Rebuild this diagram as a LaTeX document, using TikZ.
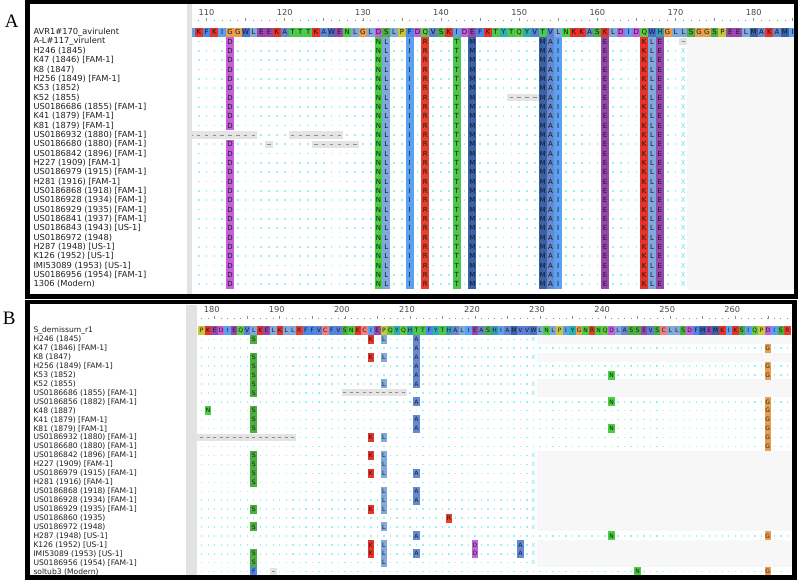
\documentclass[tikz,border=0pt]{standalone}
\usepackage{fontspec}
\setmainfont{DejaVu Sans}
\newfontfamily\panelfont{Liberation Serif}
\definecolor{aaA}{HTML}{6688D0}
\definecolor{aaC}{HTML}{F08080}
\definecolor{aaD}{HTML}{C460DC}
\definecolor{aaE}{HTML}{9848AC}
\definecolor{aaF}{HTML}{4C88E8}
\definecolor{aaG}{HTML}{E8A050}
\definecolor{aaH}{HTML}{3A9CB4}
\definecolor{aaI}{HTML}{5CA0F2}
\definecolor{aaK}{HTML}{E8332A}
\definecolor{aaL}{HTML}{80AADE}
\definecolor{aaM}{HTML}{3A62A8}
\definecolor{aaN}{HTML}{48D040}
\definecolor{aaP}{HTML}{C8C83C}
\definecolor{aaQ}{HTML}{60CC44}
\definecolor{aaR}{HTML}{E8402E}
\definecolor{aaS}{HTML}{4CB040}
\definecolor{aaT}{HTML}{4CC84C}
\definecolor{aaV}{HTML}{5A80D8}
\definecolor{aaW}{HTML}{4A70C8}
\definecolor{aaY}{HTML}{2EB0B0}
\definecolor{dotcyan}{HTML}{8EF4F4}
\definecolor{xcyan}{HTML}{66E4EE}
\definecolor{gapfill}{HTML}{E4E4E4}
\definecolor{endfill}{HTML}{F7F7F7}
\definecolor{stripgray}{HTML}{E2E2E2}
\tikzset{
  resA/.style={inner sep=0pt,minimum width=7.9pt,minimum height=9.4pt,text=black!90,font=\fontsize{7}{7}\selectfont},
  resB/.style={inner sep=0pt,minimum width=6.55pt,minimum height=9pt,text=black!90,font=\fontsize{6}{6}\selectfont},
  labelA/.style={anchor=west,inner sep=0pt,text=black!88,font=\fontsize{8.3}{8.3}\selectfont},
  labelB/.style={anchor=west,inner sep=0pt,text=black!88,font=\fontsize{7.6}{7.6}\selectfont},
  rulernum/.style={inner sep=0pt,text=black!72,font=\fontsize{8.2}{8.2}\selectfont},
  xmarkA/.style={inner sep=0pt,text=xcyan,font=\fontsize{7}{7}\selectfont},
  xmarkB/.style={inner sep=0pt,text=xcyan,font=\fontsize{6}{6}\selectfont},
  gapdash/.style={draw=black!45,line width=0.8pt},
  panelframe/.style={line width=4.4pt},
  panelletter/.style={inner sep=0pt,font=\panelfont\fontsize{19}{19}\selectfont}
}
\begin{document}
\begin{tikzpicture}[x=1pt,y=-1pt]
  \fill[white] (0,0) rectangle (800,580);
  \useasboundingbox (0,0) rectangle (800,580);
  \node[panelletter] (pa) at (11.7,21) {A};
  \node[panelletter] (pb) at (9.2,318.7) {B};
  % panel A
  \foreach \lab [count=\i] in {AVR1\#170\_avirulent, A-L\#117\_virulent, H246 (1845), K47 (1846) [FAM-1], K8 (1847), H256 (1849) [FAM-1], K53 (1852), K52 (1855), US0186686 (1855) [FAM-1], K41 (1879) [FAM-1], K81 (1879) [FAM-1], US0186932 (1880) [FAM-1], US0186680 (1880) [FAM-1], US0186842 (1896) [FAM-1], H227 (1909) [FAM-1], US0186979 (1915) [FAM-1], H281 (1916) [FAM-1], US0186868 (1918) [FAM-1], US0186928 (1934) [FAM-1], US0186929 (1935) [FAM-1], US0186841 (1937) [FAM-1], US0186843 (1943) [US-1], US0186972 (1948), H287 (1948) [US-1], K126 (1952) [US-1], IMI53089 (1953) [US-1], US0186956 (1954) [FAM-1], 1306 (Modern)}
    \node[labelA] (la\i) at (33.3,{32.3+(\i-1)*9.33}) {\lab};
  \foreach \v in {110,120,...,180}
    \node[rulernum] (ra\v) at ({230+(\v-113)*7.816},12.3) {\v};
  \foreach \n in {109,...,185}
    \fill[black!45] ({230+(\n-113)*7.816-0.4},20.3) rectangle ++(0.8,0.8);
  \foreach \n in {110,115,...,185}
    \draw[black!45,line width=0.6pt] ({230+(\n-113)*7.816},18.3) -- ++(0,2.6);
  \foreach \aa [count=\n from 108] in {I,K,F,K,I,G,G,W,L,E,E,K,A,T,T,T,K,A,W,E,N,L,G,L,D,S,L,P,F,D,Q,V,S,K,I,D,E,F,K,T,Y,T,Q,Y,V,T,V,L,N,K,K,A,S,K,L,D,I,D,Q,W,H,G,L,L,S,G,G,S,P,E,E,L,M,A,K,A,M,I}
    \node[resA,fill=aa\aa] (sa\n) at ({230+(\n-113)*7.816},32.3) {\aa};
  \foreach \r in {2,...,28}
    \foreach \n in {109,...,170}
      \fill[dotcyan] ({230+(\n-113)*7.816-0.85},{32.3+(\r-1)*9.33-0.85}) rectangle ++(1.7,1.7);
  \fill[endfill] (687.2,37) rectangle (794,289.5);
  \foreach \r in {3,...,28}
    \node[xmarkA] at (683.3,{32.3+(\r-1)*9.33}) {X};
  \foreach \r in {2,...,11,13,14,...,28}
    \node[resA,fill=aaD] at (230,{32.3+(\r-1)*9.33}) {D};
  \foreach \n/\aa in {132/N,133/L,136/I,138/R,142/T,144/M,153/M,154/A,155/I,161/E,166/K,167/L,168/E}
    \foreach \r in {2,...,28}
      \node[resA,fill=aa\aa] at ({230+(\n-113)*7.816},{32.3+(\r-1)*9.33}) {\aa};
  \foreach \r/\a/\b in {2/171/171,8/149/152,12/108/116,12/121/127,13/118/118,13/124/129}{
    \fill[gapfill] ({230+(\a-113.5)*7.816},{32.3+(\r-1)*9.33-3.6}) rectangle ({230+(\b-112.5)*7.816},{32.3+(\r-1)*9.33+3.6});
    \foreach \n in {\a,...,\b}
      \draw[gapdash] ({230+(\n-113)*7.816-1.7},{32.3+(\r-1)*9.33}) -- ++(3.4,0);
  }
  \fill[stripgray] (186.5,4) rectangle (191.5,294);
  \draw[panelframe] (27.5,2.2) rectangle (796,296.3);
  % panel B
  \foreach \lab [count=\i] in {S\_demissum\_r1, H246 (1845), K47 (1846) [FAM-1], K8 (1847), H256 (1849) [FAM-1], K53 (1852), K52 (1855), US0186686 (1855) [FAM-1], US0186856 (1882) [FAM-1], K48 (1887), K41 (1879) [FAM-1], K81 (1879) [FAM-1], US0186932 (1880) [FAM-1], US0186680 (1880) [FAM-1], US0186842 (1896) [FAM-1], H227 (1909) [FAM-1], US0186979 (1915) [FAM-1], H281 (1916) [FAM-1], US0186868 (1918) [FAM-1], US0186928 (1934) [FAM-1], US0186929 (1935) [FAM-1], US0186860 (1935), US0186972 (1948), H287 (1948) [US-1], K126 (1952) [US-1], IMI53089 (1953) [US-1], US0186956 (1954) [FAM-1], soltub3 (Modern)}
    \node[labelB] (lb\i) at (33.3,{330.3+(\i-1)*8.94}) {\lab};
  \foreach \v in {180,190,...,260}
    \node[rulernum] (rb\v) at ({211.7+(\v-180)*6.507},310) {\v};
  \foreach \k in {1,...,91}
    \fill[black!45] ({201.7+(\k-1)*6.507-0.4},318.3) rectangle ++(0.8,0.8);
  \foreach \k in {3,8,...,88}
    \draw[black!45,line width=0.6pt] ({201.7+(\k-1)*6.507},316.3) -- ++(0,2.6);
  \foreach \aa [count=\k] in {P,K,E,D,I,E,Q,V,L,K,E,L,K,L,L,R,F,F,V,C,F,V,S,N,K,C,I,E,P,Q,Y,Q,H,T,T,F,Y,T,H,A,L,I,E,A,S,H,I,A,M,V,V,W,L,N,L,P,I,Y,G,N,R,N,Q,D,L,A,S,S,E,V,S,C,L,L,S,D,F,M,E,M,K,I,K,S,I,Q,P,D,I,S,R}
    \node[resB,fill=aa\aa] (sb\k) at ({201.7+(\k-1)*6.507},330.3) {\aa};
  \foreach \r in {1,...,27}
    \foreach \k in {1,...,51}
      \fill[dotcyan] ({201.7+(\k-1)*6.507-0.7},{330.3+\r*8.94-0.7}) rectangle ++(1.4,1.4);
  \foreach \r in {2,4,5,8,9,10,11,12,13,23,27}
    \foreach \k in {52,...,91}
      \fill[dotcyan] ({201.7+(\k-1)*6.507-0.7},{330.3+\r*8.94-0.7}) rectangle ++(1.4,1.4);
  \foreach \r in {1,3,6,7,14,15,...,22,24,25,26}{
    \fill[endfill] (536.6,{330.3+\r*8.94-4.47}) rectangle (792,{330.3+\r*8.94+4.47});
    \node[xmarkB] at (533.5,{330.3+\r*8.94}) {X};
  }
  \foreach \r/\k/\aa in {1/9/S,1/27/K,1/29/L,1/34/A,2/34/A,2/88/G,3/9/S,3/27/K,3/29/L,3/34/A,4/9/S,4/34/A,4/88/G,5/9/S,5/34/A,5/64/N,5/88/G,6/9/S,6/29/L,6/34/A,7/9/S,8/34/A,8/64/N,8/88/G,9/2/N,9/9/S,9/88/G,10/9/S,10/34/A,10/88/G,11/9/S,11/34/A,11/64/N,11/88/G,12/27/K,12/29/L,12/88/G,13/88/G,14/9/S,14/27/K,14/29/L,15/9/S,15/29/L,16/9/S,16/27/K,16/29/L,16/34/A,17/9/S,18/29/L,18/34/A,19/29/L,19/34/A,20/9/S,20/27/K,20/29/L,21/39/R,22/9/S,22/29/L,23/34/A,23/64/N,23/88/G,24/27/K,24/29/L,24/43/D,24/50/A,25/9/S,25/27/K,25/29/L,25/34/A,25/43/D,25/50/A,26/9/S,26/29/L,27/9/F,27/68/N,27/88/G}
    \node[resB,fill=aa\aa] at ({201.7+(\k-1)*6.507},{330.3+\r*8.94}) {\aa};
  \foreach \r/\a/\b in {7/23/32,12/0/15,27/12/12}{
    \fill[gapfill] ({201.7+(\a-1.5)*6.507},{330.3+\r*8.94-3.4}) rectangle ({201.7+(\b-0.5)*6.507},{330.3+\r*8.94+3.4});
    \foreach \k in {\a,...,\b}
      \draw[gapdash] ({201.7+(\k-1)*6.507-1.5},{330.3+\r*8.94}) -- ++(3,0);
  }
  \fill[stripgray] (186,305) rectangle (196.8,575);
  \draw[panelframe] (27.5,302) rectangle (794.3,577.6);
\end{tikzpicture}
\end{document}
